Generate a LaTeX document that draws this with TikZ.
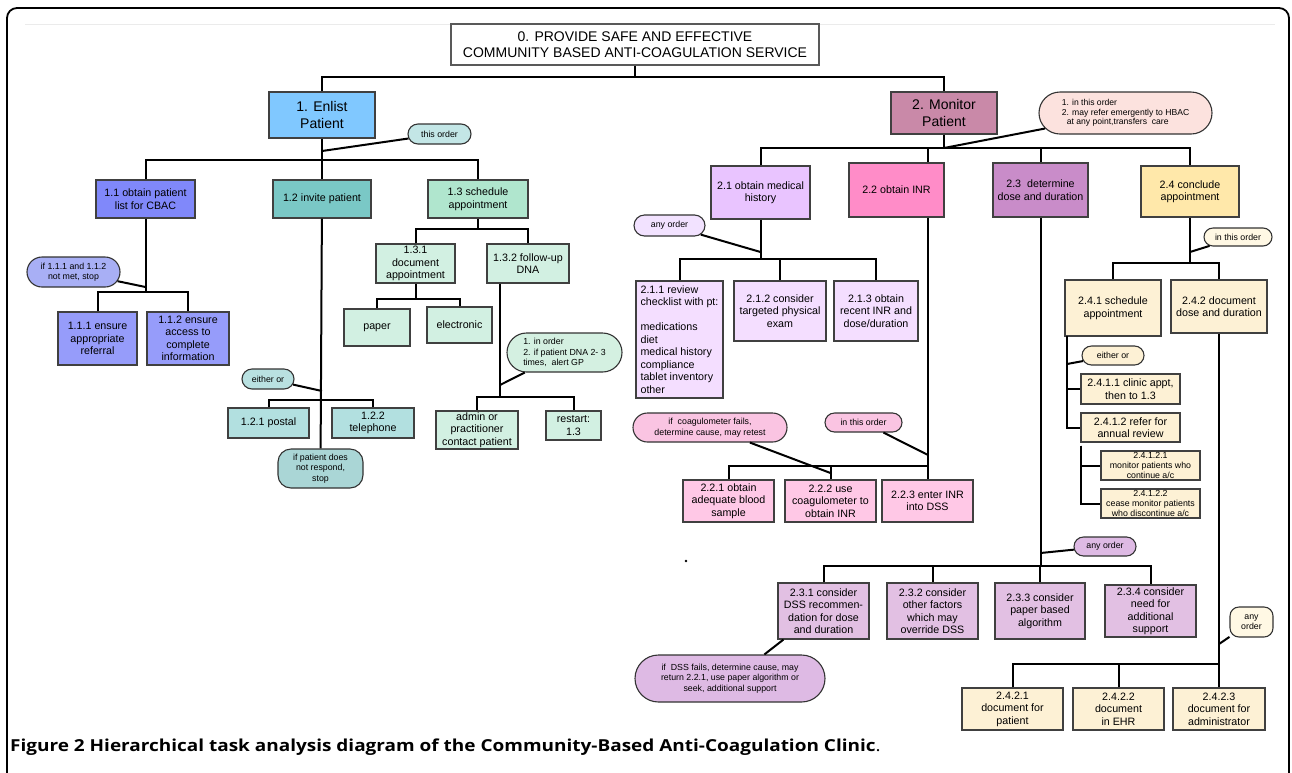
\documentclass[tikz,border=0pt]{standalone}
\usepackage{fontspec}
\setmainfont{Liberation Sans}
\newfontfamily\capfont{Open Sans}
\usepackage{tikz}
\usetikzlibrary{shapes.misc}

\definecolor{cEnlist}{RGB}{128,200,255}
\definecolor{cMonitor}{RGB}{201,137,168}
\definecolor{cA}{RGB}{128,136,250}
\definecolor{cAA}{RGB}{150,156,250}
\definecolor{nA}{RGB}{168,175,245}
\definecolor{cB}{RGB}{122,200,198}
\definecolor{cBB}{RGB}{178,224,224}
\definecolor{nB}{RGB}{185,225,225}
\definecolor{nBB}{RGB}{170,214,214}
\definecolor{nTop}{RGB}{195,230,230}
\definecolor{cC}{RGB}{176,230,206}
\definecolor{cCC}{RGB}{210,240,226}
\definecolor{nC}{RGB}{212,240,225}
\definecolor{cD}{RGB}{233,196,255}
\definecolor{cDD}{RGB}{244,222,255}
\definecolor{nD}{RGB}{242,226,255}
\definecolor{cE}{RGB}{255,140,200}
\definecolor{cEE}{RGB}{255,200,230}
\definecolor{nE}{RGB}{250,196,226}
\definecolor{cF}{RGB}{201,140,201}
\definecolor{cFF}{RGB}{226,192,227}
\definecolor{nF}{RGB}{222,186,228}
\definecolor{cG}{RGB}{255,232,170}
\definecolor{cGG}{RGB}{253,241,213}
\definecolor{nG}{RGB}{255,248,228}
\definecolor{nMon}{RGB}{252,226,222}

\tikzstyle{task} = [rectangle, draw=black!75, line width=1.1pt, align=center, inner sep=1pt, font=\fontsize{10.7}{12.5}\selectfont]
\tikzstyle{goal} = [task, font=\fontsize{14}{16.5}\selectfont]
\tikzstyle{subtask} = [task, inner sep=0.5pt, font=\fontsize{8.8}{9.6}\selectfont]
\tikzstyle{note} = [rounded rectangle, draw=black!80, line width=1.1pt, align=center, inner sep=1pt, font=\fontsize{8.8}{10.5}\selectfont]
\tikzstyle{notebox} = [note, rectangle, rounded corners=10pt]
\tikzstyle{link} = [line width=2pt, black]

\begin{document}
\begin{tikzpicture}[x=1pt, y=-1pt]
            \useasboundingbox (0,0) rectangle (1292,772);
            \fill [white] (0,0) rectangle (1292,772);
            \draw [line width=1.8pt, rounded corners=10pt] (7,790) -- (7,8) -- (1289,8) -- (1289,790);
            \draw [black!8, line width=1pt] (25,24) -- (1275,24);

            % top of the hierarchy
            \node (t0) [task, fill=white, draw=black!65, minimum width=368, minimum height=41, font=\fontsize{14}{16}\selectfont] at (635,44.5) {0. PROVIDE SAFE AND EFFECTIVE\\COMMUNITY BASED ANTI-COAGULATION SERVICE};
            \node (t1) [goal, fill=cEnlist, minimum width=106, minimum height=46] at (322,115) {1. Enlist\\Patient};
            \node (t2) [goal, fill=cMonitor, minimum width=106, minimum height=42] at (944,113) {2. Monitor\\Patient};

            % 1. enlist patient
            \node (n1) [note, fill=nTop, minimum width=65, minimum height=20] at (439.5,134) {this order};
            \node (t11) [task, fill=cA, minimum width=99, minimum height=38] at (145.5,199) {1.1 obtain patient\\list for CBAC};
            \node (t12) [task, fill=cB, minimum width=98, minimum height=38] at (322,199) {1.2 invite patient};
            \node (t13) [task, fill=cC, minimum width=100, minimum height=38] at (478,199) {1.3 schedule\\appointment};
            \node (n11) [note, fill=nA, minimum width=95, minimum height=30] at (73.5,272) {if 1.1.1 and 1.1.2\\not met, stop};
            \node (t111) [task, fill=cAA, minimum width=79, minimum height=53] at (97.5,338.5) {1.1.1 ensure\\appropriate\\referral};
            \node (t112) [task, fill=cAA, minimum width=82, minimum height=53] at (188,338.5) {1.1.2 ensure\\access to\\complete\\information};
            \node (n12) [note, fill=nB, minimum width=54, minimum height=20] at (268,379) {either or};
            \node (t121) [task, fill=cBB, minimum width=81, minimum height=30] at (268.5,423) {1.2.1 postal};
            \node (t122) [task, fill=cBB, minimum width=82, minimum height=30] at (373,423) {1.2.2\\telephone};
            \node (n12b) [notebox, fill=nBB, minimum width=85, minimum height=39, rounded corners=13pt] at (320.5,468.5) {if patient does\\not respond,\\stop};
            \node (t131) [task, fill=cCC, minimum width=79, minimum height=39] at (415.5,263.5) {1.3.1\\document\\appointment};
            \node (t132) [task, fill=cCC, minimum width=82, minimum height=39] at (528,263.5) {1.3.2 follow-up\\DNA};
            \node (t1311) [task, fill=cCC, minimum width=66, minimum height=37] at (377,327.5) {paper};
            \node (t1312) [task, fill=cCC, minimum width=65, minimum height=36] at (459.5,325) {electronic};
            \node (n132) [note, fill=nC, minimum width=117, minimum height=39, align=left] at (564.5,352.5) {1. in order\\2. if patient DNA 2- 3\\times,\ \ alert GP};
            \node (t1321) [task, fill=cCC, minimum width=82, minimum height=38] at (477,430) {admin or\\practitioner\\contact patient};
            \node (t1322) [task, fill=cCC, minimum width=55, minimum height=29] at (573.5,425.5) {restart:\\1.3};

            % 2. monitor patient
            \node (n2) [note, fill=nMon, minimum width=175, minimum height=42, align=left, font=\fontsize{8.6}{9.6}\selectfont] at (1125.5,113) {1. in this order\\2. may refer emergently to HBAC\\\hspace*{5pt}at any point,transfers\ \ care};
            \node (t21) [task, fill=cD, minimum width=99, minimum height=53] at (760.5,192.5) {2.1 obtain medical\\history};
            \node (t22) [task, fill=cE, minimum width=95, minimum height=54] at (896.5,190) {2.2 obtain INR};
            \node (t23) [task, fill=cF, minimum width=95, minimum height=54] at (1040.5,190) {2.3\ \ determine\\dose and duration};
            \node (t24) [task, fill=cG, minimum width=98, minimum height=51] at (1190,191.5) {2.4 conclude\\appointment};

            \node (n21) [note, fill=nD, minimum width=73, minimum height=21] at (669.5,225.5) {any order};
            \node (t211) [task, fill=cDD, minimum width=87, minimum height=117, align=left, inner xsep=3pt] at (679.5,339.5) {2.1.1 review\\checklist with pt:\\[12.5pt]medications\\diet\\medical history\\compliance\\tablet inventory\\other};
            \node (t212) [task, fill=cDD, minimum width=92, minimum height=60] at (780,311) {2.1.2 consider\\targeted physical\\exam};
            \node (t213) [task, fill=cDD, minimum width=84, minimum height=60] at (876,311) {2.1.3 obtain\\recent INR and\\dose/duration};

            \node (n22a) [note, fill=nE, minimum width=156, minimum height=29] at (710,427.5) {if\ \ coagulometer fails,\\determine cause, may retest};
            \node (n22b) [note, fill=nE, minimum width=79, minimum height=19] at (863.5,422.5) {in this order};
            \node (t221) [task, fill=cEE, minimum width=91, minimum height=42] at (728.5,501) {2.2.1 obtain\\adequate blood\\sample};
            \node (t222) [task, fill=cEE, minimum width=91, minimum height=42] at (830.5,501) {2.2.2 use\\coagulometer to\\obtain INR};
            \node (t223) [task, fill=cEE, minimum width=91, minimum height=42] at (927.5,501) {2.2.3 enter INR\\into DSS};

            \node (n23) [note, fill=nF, minimum width=64, minimum height=19] at (1105,546.5) {any order};
            \node (t231) [task, fill=cFF, minimum width=91, minimum height=56] at (823.5,611) {2.3.1 consider\\DSS recommen-\\dation for dose\\and duration};
            \node (t232) [task, fill=cFF, minimum width=91, minimum height=56] at (932.5,611) {2.3.2 consider\\other factors\\which may\\override DSS};
            \node (t233) [task, fill=cFF, minimum width=90, minimum height=56] at (1040,611) {2.3.3 consider\\paper based\\algorithm};
            \node (t234) [task, fill=cFF, minimum width=91, minimum height=52] at (1150.5,611) {2.3.4 consider\\need for\\additional\\support};
            \node (n231) [note, fill=nF, minimum width=192, minimum height=47] at (730,678.5) {if\ \ DSS fails, determine cause, may\\return 2.2.1, use paper algorithm or\\seek, additional support};

            \node (n24) [note, fill=nG, minimum width=70, minimum height=18] at (1238,237) {in this order};
            \node (t241) [task, fill=cGG, minimum width=96, minimum height=56] at (1113,308) {2.4.1 schedule\\appointment};
            \node (t242) [task, fill=cGG, minimum width=96, minimum height=53] at (1219,306.5) {2.4.2 document\\dose and duration};
            \node (n241) [note, fill=cGG, minimum width=64, minimum height=19] at (1113,355.5) {either or};
            \node (t2411) [task, fill=cGG, minimum width=99, minimum height=30] at (1130.5,389) {2.4.1.1 clinic appt,\\then to 1.3};
            \node (t2412) [task, fill=cGG, minimum width=99, minimum height=29] at (1130.5,427.5) {2.4.1.2 refer for\\annual review};
            \node (t24121) [subtask, fill=cGG, minimum width=99, minimum height=29] at (1150.5,465.5) {2.4.1.2.1\\monitor patients who\\continue a/c};
            \node (t24122) [subtask, fill=cGG, minimum width=99, minimum height=29] at (1150.5,503.5) {2.4.1.2.2\\cease monitor patients\\who discontinue a/c};
            \node (n242) [notebox, fill=nG, minimum width=43, minimum height=30, rounded corners=9pt] at (1251.5,622) {any\\order};
            \node (t2421) [task, fill=cGG, minimum width=101, minimum height=42] at (1012.5,709) {2.4.2.1\\document for\\patient};
            \node (t2422) [task, fill=cGG, minimum width=91, minimum height=42] at (1118.5,709) {2.4.2.2\\document\\in EHR};
            \node (t2423) [task, fill=cGG, minimum width=92, minimum height=42] at (1219,709) {2.4.2.3\\document for\\administrator};

            % junction points of the tree
            \coordinate (j0) at (635,77);
            \coordinate (j1) at (322,160);
            \coordinate (k1) at (322,151);
            \coordinate (j11) at (145.5,292);
            \coordinate (k11) at (145.5,287);
            \coordinate (j12) at (322,400);
            \coordinate (k12) at (322,391);
            \coordinate (j13) at (478,229);
            \coordinate (j131) at (415.5,299);
            \coordinate (j132) at (500,397);
            \coordinate (k132) at (500,385);
            \coordinate (j2) at (944,148);
            \coordinate (j22) at (928,148);
            \coordinate (j21) at (760.5,259);
            \coordinate (k21) at (760.5,252);
            \coordinate (j22b) at (928,466);
            \coordinate (k22a) at (830.5,473);
            \coordinate (k22b) at (928,455);
            \coordinate (j23) at (1040.5,566);
            \coordinate (k23) at (1040.5,553);
            \coordinate (j24) at (1190,263);
            \coordinate (k24) at (1190,252);
            \coordinate (j241) at (1067,336);
            \coordinate (k241) at (1067,364);
            \coordinate (j242) at (1219,664);
            \coordinate (k242) at (1219,644);

            \draw [link] (t0) -- (j0);
            \draw [link] (t1) |- (j0) -| (t2);

            \draw [link] (t1) -- (t12);
            \draw [link] (t11) |- (j1) -| (t13);
            \draw [link] (n1) -- (k1);
            \draw [link] (t11) -- (j11);
            \draw [link] (t111) |- (j11) -| (t112);
            \draw [link] (n11) -- (k11);
            \draw [link] (t12) -- (n12b);
            \draw [link] (t121) |- (j12) -| (t122);
            \draw [link] (n12) -- (k12);
            \draw [link] (t13) -- (j13);
            \draw [link] (t131) |- (j13) -| (t132);
            \draw [link] (t131) -- (j131);
            \draw [link] (t1311) |- (j131) -| (t1312);
            \draw [link] (t132.south -| j132) -- (j132);
            \draw [link] (t1321) |- (j132) -| (t1322);
            \draw [link] (n132) -- (k132);

            \draw [link] (t2) -- (j2);
            \draw [link] (t21) |- (j2) -| (t24);
            \draw [link] (t23) -- (t23 |- j2);
            \draw [link] (j22) -- (j22 |- t22.north);
            \draw [link] (n2) -- (j2);

            \draw [link] (t21) -- (j21);
            \draw [link] (t211) |- (j21) -| (t213);
            \draw [link] (t212) -- (t212 |- j21);
            \draw [link] (n21) -- (k21);

            \draw [link] (t22.south -| j22b) -- (j22b);
            \draw [link] (t221) |- (j22b) -| (t223);
            \draw [link] (t222) -- (t222 |- j22b);
            \draw [link] (n22a) -- (k22a);
            \draw [link] (n22b) -- (k22b);

            \draw [link] (t23) -- (j23);
            \draw [link] (t231) |- (j23) -| (t234);
            \draw [link] (t232) -- (t232 |- j23);
            \draw [link] (t233) -- (t233 |- j23);
            \draw [link] (n23) -- (k23);
            \draw [link] (n231.35) -- ([xshift=6pt]t231.south west);

            \draw [link] (t24) -- (j24);
            \draw [link] (t241) |- (j24) -| (t242);
            \draw [link] (n24) -- (k24);
            \draw [link] (j241) |- (t2411.west);
            \draw [link] (j241) |- (t2412.west);
            \draw [link] (n241) -- (k241);
            \draw [link] ([xshift=0.5pt,yshift=-3pt]t2412.south west) |- (t24121.west);
            \draw [link] ([xshift=0.5pt,yshift=-3pt]t2412.south west) |- (t24122.west);

            \draw [link] (t242) -- (t2423);
            \draw [link] (t2421) |- (j242);
            \draw [link] (t2422) -- (t2422 |- j242);
            \draw [link] (n242) -- (k242);

            \fill (686,561) circle (1.3);

            \node (cap) [anchor=base west, inner sep=0pt, font=\capfont\fontsize{16.5}{19}\selectfont] at (10,751) {\scalebox{1.15}[1]{{\bfseries Figure 2 Hierarchical task analysis diagram of the Community-Based Anti-Coagulation Clinic}.}};
        \end{tikzpicture}
\end{document}
